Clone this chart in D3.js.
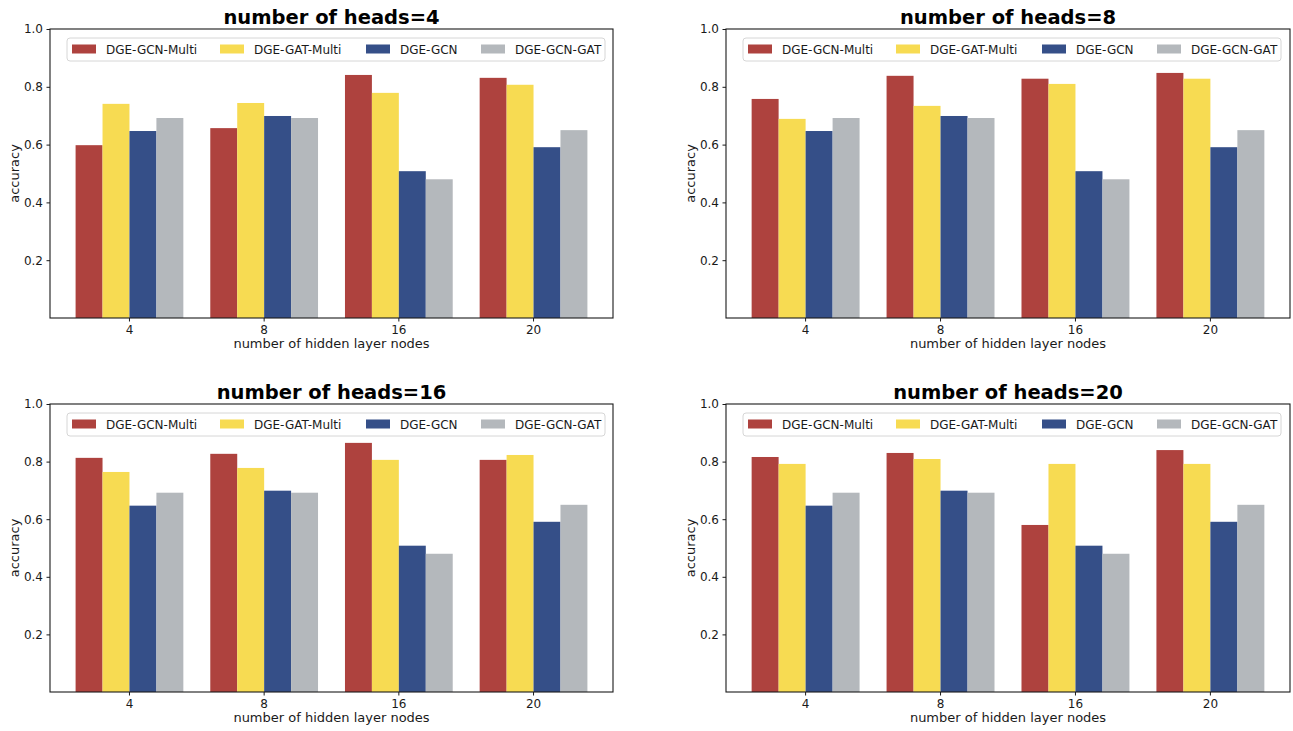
<!DOCTYPE html>
<html>
<head>
<meta charset="utf-8">
<script src="https://cdn.jsdelivr.net/npm/d3@7"></script>
<style>
  html, body { margin: 0; padding: 0; background: #fff; }
  svg { display: block; font-family: "DejaVu Sans", sans-serif; }
</style>
</head>
<body>
<svg id="chart" width="1293" height="731"></svg>
<script>
// ---- data ----
const categories = ["4", "8", "16", "20"];
const seriesNames = ["DGE-GCN-Multi", "DGE-GAT-Multi", "DGE-GCN", "DGE-GCN-GAT"];
const seriesColors = ["#ae423e", "#f7db52", "#354f88", "#b4b8bc"];
const yTicks = [0.2, 0.4, 0.6, 0.8, 1.0];
const panelTitles = ["number of heads=4", "number of heads=8", "number of heads=16", "number of heads=20"];

const gcn    = [0.647, 0.699, 0.508, 0.591];
const gcnGat = [0.692, 0.692, 0.480, 0.650];

const heads4_gcnMulti  = [0.598, 0.657, 0.841, 0.831];
const heads4_gatMulti  = [0.741, 0.744, 0.779, 0.807];
const heads8_gcnMulti  = [0.758, 0.838, 0.828, 0.848];
const heads8_gatMulti  = [0.689, 0.734, 0.810, 0.828];
const heads16_gcnMulti = [0.813, 0.827, 0.865, 0.806];
const heads16_gatMulti = [0.764, 0.778, 0.806, 0.823];
const heads20_gcnMulti = [0.816, 0.830, 0.580, 0.840];
const heads20_gatMulti = [0.792, 0.809, 0.792, 0.792];

const panelSeries = [
  [heads4_gcnMulti, heads4_gatMulti, gcn, gcnGat],
  [heads8_gcnMulti, heads8_gatMulti, gcn, gcnGat],
  [heads16_gcnMulti, heads16_gatMulti, gcn, gcnGat],
  [heads20_gcnMulti, heads20_gatMulti, gcn, gcnGat]
];

// ---- layout ----
const panelBoxes = [
  {left: 50,  right: 613,  top: 29,  bottom: 318},
  {left: 726, right: 1290, top: 29,  bottom: 318},
  {left: 50,  right: 613,  top: 404, bottom: 692},
  {left: 726, right: 1290, top: 404, bottom: 692}
];
const textColor = "#1a1a1a";

const svg = d3.select("#chart");

panelBoxes.forEach((box, pi) => {
  const g = svg.append("g");
  const w = box.right - box.left;

  const x0 = d3.scaleBand().domain(categories)
    .range([box.left, box.right]).paddingInner(0.2).paddingOuter(0.19);
  const x1 = d3.scaleBand().domain(seriesNames)
    .range([0, x0.bandwidth()]).padding(0);
  const y = d3.scaleLinear().domain([0, 1]).range([box.bottom, box.top]);

  // bars
  seriesNames.forEach((s, si) => {
    g.append("g").selectAll("rect")
      .data(panelSeries[pi][si])
      .join("rect")
      .attr("x", (d, i) => x0(categories[i]) + x1(s))
      .attr("y", d => y(d))
      .attr("width", x1.bandwidth())
      .attr("height", d => y(0) - y(d))
      .attr("fill", seriesColors[si]);
  });

  // axes
  const xAxis = d3.axisBottom(x0).tickSize(3.5).tickPadding(3.5).tickSizeOuter(0);
  const yAxis = d3.axisLeft(y).tickValues(yTicks).tickFormat(d3.format(".1f")).tickSize(3.5).tickPadding(3.5).tickSizeOuter(0);

  const gx = g.append("g").attr("transform", `translate(0,${box.bottom})`).call(xAxis);
  const gy = g.append("g").attr("transform", `translate(${box.left},0)`).call(yAxis);
  [gx, gy].forEach(a => {
    a.select(".domain").remove();
    a.selectAll("line").attr("stroke", textColor).attr("stroke-width", 1);
    a.selectAll("text").attr("fill", textColor).style("font-size", "12px").style("font-family", "DejaVu Sans");
  });

  // spines
  g.append("rect")
    .attr("x", box.left).attr("y", box.top)
    .attr("width", w).attr("height", box.bottom - box.top)
    .attr("fill", "none").attr("stroke", textColor).attr("stroke-width", 1.1);

  // title
  g.append("text")
    .attr("x", (box.left + box.right) / 2).attr("y", box.top - 5)
    .attr("text-anchor", "middle")
    .attr("fill", "#000")
    .style("font-size", "19.5px").style("font-weight", "bold")
    .text(panelTitles[pi]);

  // x label
  g.append("text")
    .attr("x", (box.left + box.right) / 2).attr("y", box.bottom + 30)
    .attr("text-anchor", "middle").attr("fill", textColor)
    .style("font-size", "13px")
    .text("number of hidden layer nodes");

  // y label
  g.append("text")
    .attr("transform", `translate(${box.left - 31},${(box.top + box.bottom) / 2}) rotate(-90)`)
    .attr("text-anchor", "middle").attr("fill", textColor)
    .style("font-size", "13px")
    .text("accuracy");

  // legend
  const lg = g.append("g").attr("transform", `translate(${box.left},${box.top})`);
  lg.append("rect")
    .attr("x", 17).attr("y", 9).attr("width", 538).attr("height", 23)
    .attr("rx", 3).attr("fill", "#fff").attr("fill-opacity", 0.8)
    .attr("stroke", "#d6d6d6").attr("stroke-width", 1);
  const patchX = [22, 170, 316, 431];
  seriesNames.forEach((s, si) => {
    lg.append("rect")
      .attr("x", patchX[si]).attr("y", 15.5).attr("width", 24).attr("height", 9)
      .attr("fill", seriesColors[si]);
    lg.append("text")
      .attr("x", patchX[si] + 34).attr("y", 24.5)
      .attr("fill", textColor).style("font-size", "12px")
      .text(s);
  });
});
</script>
</body>
</html>
